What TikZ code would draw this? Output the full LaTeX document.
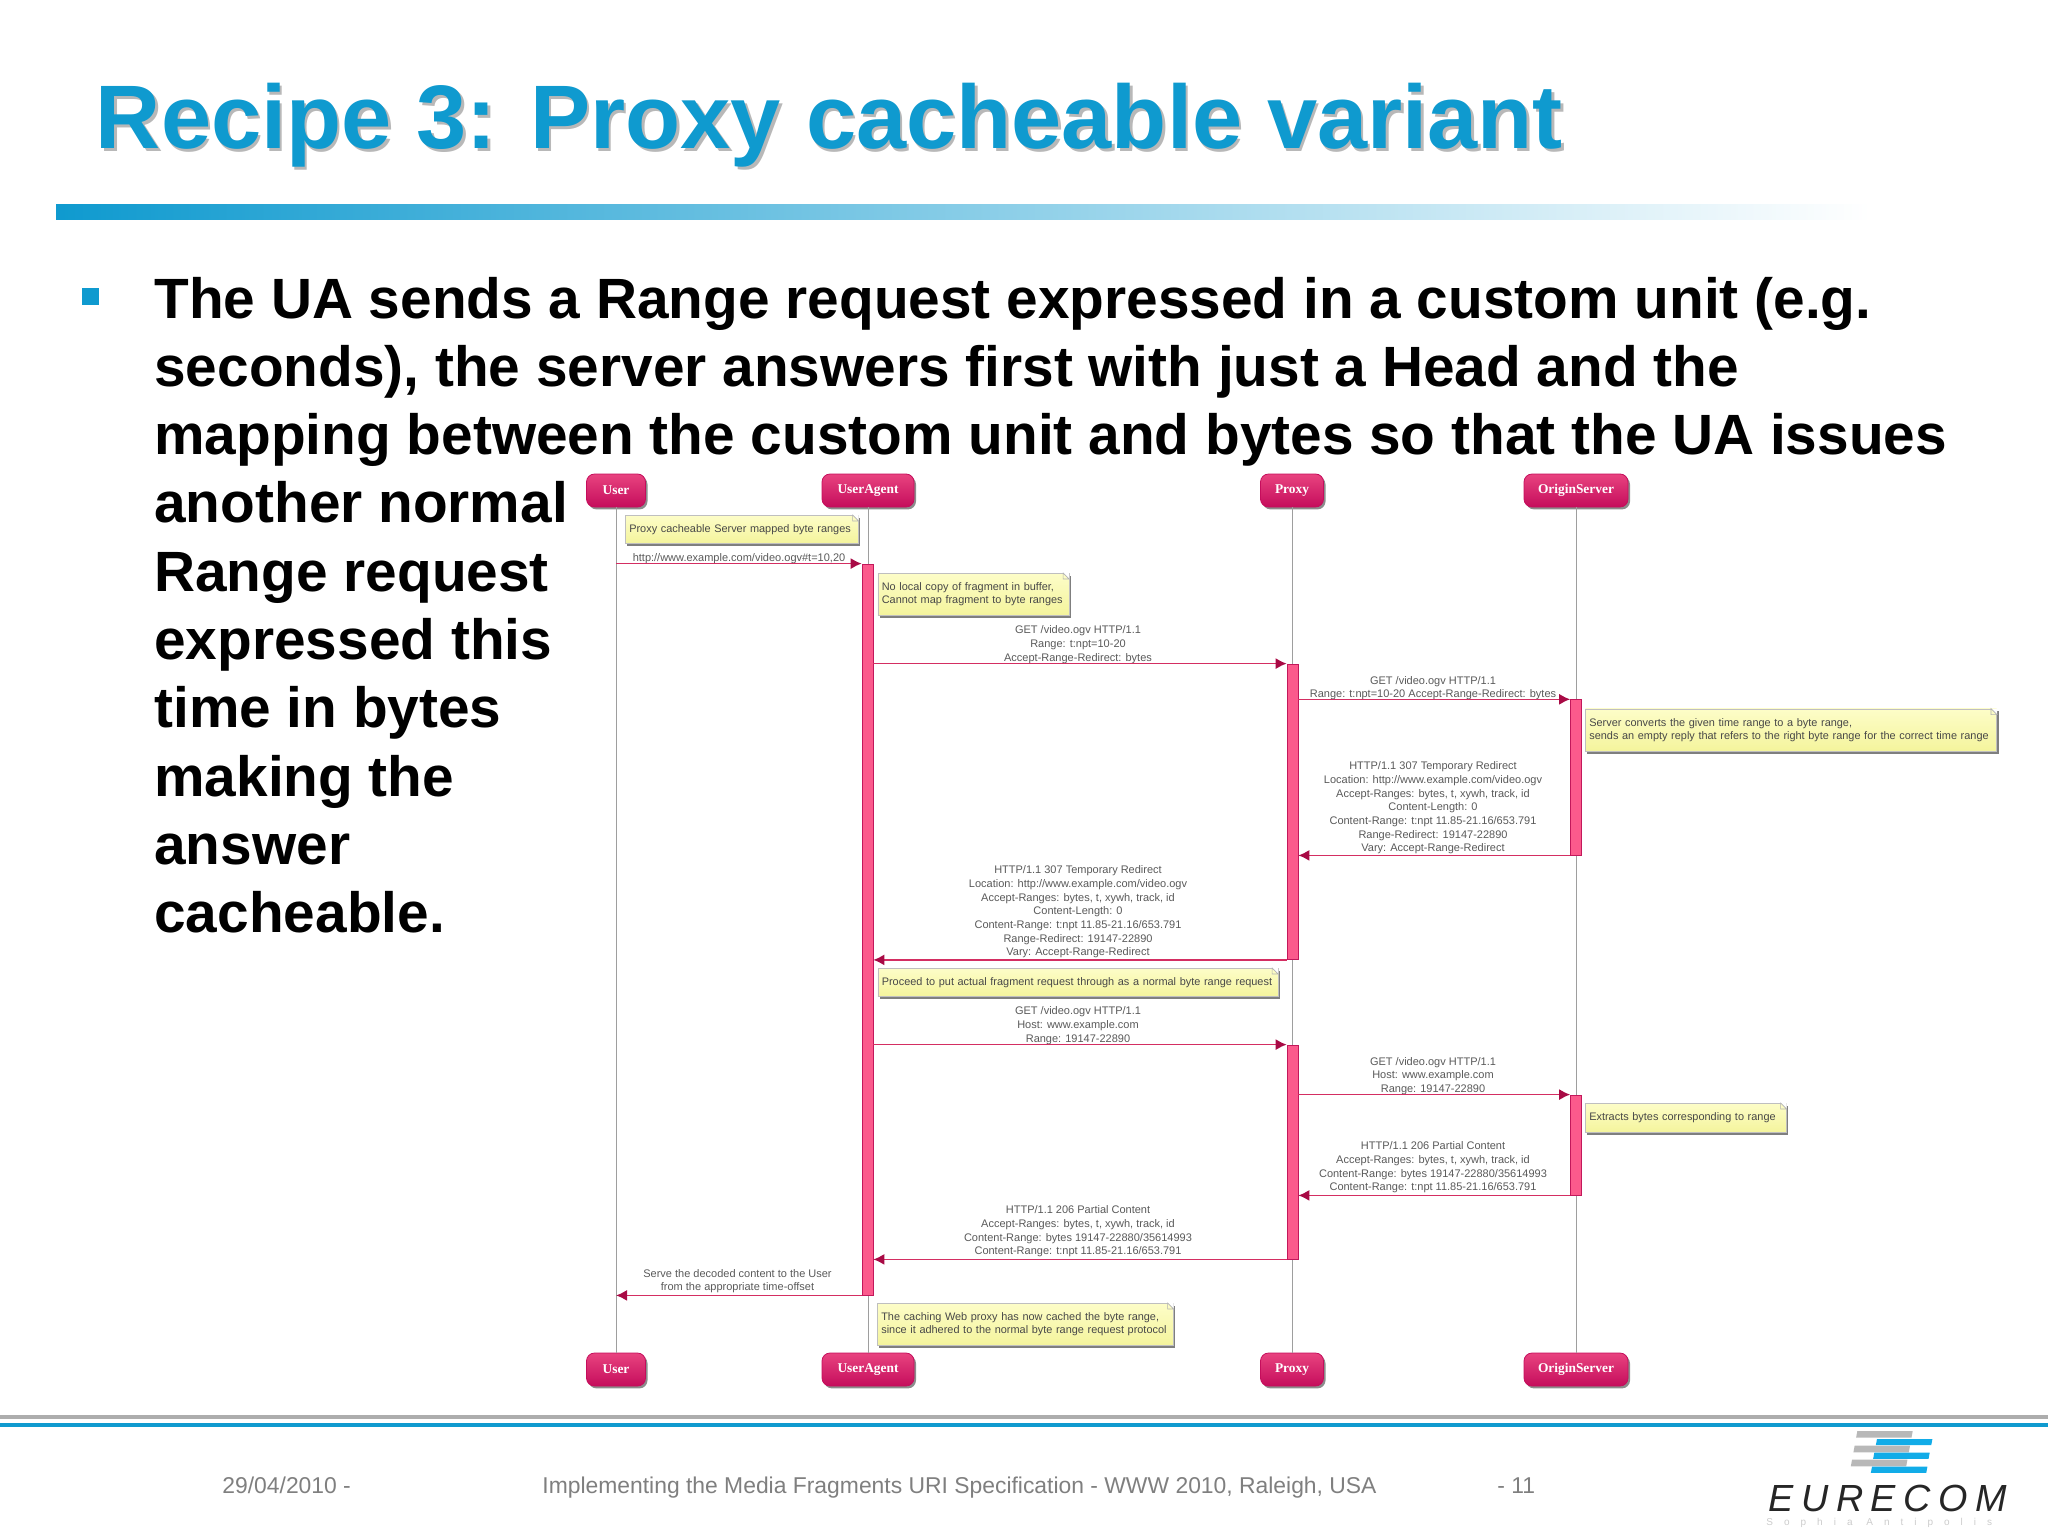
\documentclass[tikz,border=0pt]{standalone}
\usepackage{fontspec}
\setmainfont{Liberation Sans}
\newfontfamily\actorfont{Liberation Serif}
\newfontfamily\logofont[LetterSpace=20]{Liberation Sans}
\newfontfamily\logosubfont[LetterSpace=110]{Liberation Sans}
\usepackage{xcolor}
\usepackage{tikz}
\usetikzlibrary{arrows.meta,positioning,shadows}
\definecolor{slideblue}{HTML}{0F9ACF}
\definecolor{rulemid}{HTML}{A9C9E3}
\definecolor{footgray}{HTML}{7F7F7F}
\definecolor{actortop}{HTML}{E8437F}
\definecolor{actorbot}{HTML}{C50D5C}
\definecolor{barfill}{HTML}{FB5A8C}
\definecolor{barline}{HTML}{C2185B}
\definecolor{msgline}{HTML}{D42E62}
\definecolor{msghead}{HTML}{A80A45}
\definecolor{notetop}{HTML}{FDFDC8}
\definecolor{notebot}{HTML}{F4F49C}
\definecolor{logogray}{HTML}{B8B8B8}
\definecolor{logoblue}{HTML}{12ACE8}

\begin{document}
\begin{tikzpicture}[x=0.5pt,y=-0.5pt,
    actor/.style={rectangle, rounded corners=4pt, draw=actorbot, top color=actortop, bottom color=actorbot,
        minimum height=16.5pt, inner sep=0pt, text=white, font=\actorfont\bfseries\fontsize{6.7}{8}\selectfont,
        drop shadow={shadow xshift=1pt, shadow yshift=-1.2pt, opacity=0.45, fill=black}},
    bar/.style={rectangle, draw=barline, fill=barfill, line width=0.4pt, minimum width=5.4pt, inner sep=0pt},
    notebox/.style 2 args={rectangle, draw=black!25, top color=notetop, bottom color=notebot, line width=0.3pt,
        anchor=north west, inner xsep=2pt, inner ysep=0pt, text width=#1pt, minimum height=#2pt, align=left,
        text=black!72, font=\fontsize{5.46}{6.85}\selectfont,
        drop shadow={shadow xshift=1pt, shadow yshift=-1.2pt, opacity=0.5, fill=black}},
    lbl/.style={align=center, inner sep=0pt, text=black!65, font=\fontsize{5.5}{6.85}\selectfont},
    life/.style={draw, black!38, line width=0.5pt},
    msg/.style={draw, msgline, line width=0.8pt, -{Latex[length=5.5pt,width=5.5pt,color=msghead]}},
    slidetext/.style={inner sep=0pt, font=\bfseries\fontsize{28.4}{34.15}\selectfont, align=left},
    foot/.style={inner sep=0pt, text=footgray, font=\fontsize{11.44}{14}\selectfont}
]
    \useasboundingbox (0,0) rectangle (2048,1536);

    % slide head
    \node[inner sep=0pt, text=black!28, font=\bfseries\fontsize{45.1}{56}\selectfont, anchor=base west] (titleshade) at (98,151) {Recipe 3: Proxy cacheable variant};
    \node[inner sep=0pt, text=slideblue, font=\bfseries\fontsize{45.1}{56}\selectfont, anchor=base west] (title) at (95.5,148.5) {Recipe 3: Proxy cacheable variant};
    \fill[left color=slideblue, middle color=rulemid, right color=white] (56,204) rectangle (1870,219);
    \fill[slideblue] (82,288) rectangle (99,305);
    \node[slidetext, anchor=north west] (body) at (154,276.5) {The UA sends a Range request expressed in a custom unit (e.g.\\
        seconds), the server answers first with just a Head and the\\
        mapping between the custom unit and bytes so that the UA issues\\
        another normal\\
        Range request\\
        expressed this\\
        time in bytes\\
        making the\\
        answer\\
        cacheable.};

    % actors
    \node[actor, minimum width=29.5pt] (user) at (616,490.5) {User};
    \node[actor, minimum width=46pt] (agent) at (868,490.5) {UserAgent};
    \node[actor, minimum width=31.5pt] (proxy) at (1292,490.5) {Proxy};
    \node[actor, minimum width=52pt] (origin) at (1576,490.5) {OriginServer};
    \node[actor, minimum width=29.5pt] (userb) at (616,1369.5) {User};
    \node[actor, minimum width=46pt] (agentb) at (868,1369.5) {UserAgent};
    \node[actor, minimum width=31.5pt] (proxyb) at (1292,1369.5) {Proxy};
    \node[actor, minimum width=52pt] (originb) at (1576,1369.5) {OriginServer};

    \path[life] (user) -- (userb);
    \path[life] (agent) -- (agentb);
    \path[life] (proxy) -- (proxyb);
    \path[life] (origin) -- (originb);

    % activations
    \node[bar, minimum height=365.5pt] (agentact) at (867.5,929.5) {};
    \node[bar, minimum height=147.75pt] (proxyact) at (1292.5,811.75) {};
    \node[bar, minimum height=77.65pt] (originact) at (1576,777.35) {};
    \node[bar, minimum height=107pt] (proxyactb) at (1292.5,1152) {};
    \node[bar, minimum height=50pt] (originactb) at (1576,1145) {};

    % notes
    \node[notebox={112.5}{14}] (noteA) at (625,515) {Proxy cacheable Server mapped byte ranges};
    \node[notebox={91.5}{21}] (noteB) at (877.5,573) {No local copy of fragment in buffer,\\Cannot map fragment to byte ranges};
    \node[notebox={201.7}{21.2}] (noteC) at (1585,708.6) {Server converts the given time range to a byte range,\\sends an empty reply that refers to the right byte range for the correct time range};
    \node[notebox={196}{14}] (noteD) at (877.5,968) {Proceed to put actual fragment request through as a normal byte range request};
    \node[notebox={96.5}{14.5}] (noteE) at (1585,1103) {Extracts bytes corresponding to range};
    \node[notebox={144}{21}] (noteF) at (877,1303) {The caching Web proxy has now cached the byte range,\\since it adhered to the normal byte range request protocol};
    \foreach \notename in {noteA,noteB,noteC,noteD,noteE,noteF} {
        \fill[white] (\notename.north east) -- ++(-6,0) -- ++(6,6) -- cycle;
        \draw[black!30, line width=0.3pt] (\notename.north east) ++(-6,0) -- ++(0,6) -- ++(6,0) -- cycle;
    }

    % message labels
    \node[lbl] (labelA) at (739,559) {http://www.example.com/video.ogv\#t=10,20};
    \node[lbl] (labelB) at (1078,644.8) {GET /video.ogv HTTP/1.1\\Range: t:npt=10-20\\Accept-Range-Redirect: bytes};
    \node[lbl] (labelC) at (1433,688) {GET /video.ogv HTTP/1.1\\Range: t:npt=10-20 Accept-Range-Redirect: bytes};
    \node[lbl] (labelD) at (1433,808) {HTTP/1.1 307 Temporary Redirect\\Location: http://www.example.com/video.ogv\\Accept-Ranges: bytes, t, xywh, track, id\\Content-Length: 0\\Content-Range: t:npt 11.85-21.16/653.791\\Range-Redirect: 19147-22890\\Vary: Accept-Range-Redirect};
    \node[lbl] (labelE) at (1078,912) {HTTP/1.1 307 Temporary Redirect\\Location: http://www.example.com/video.ogv\\Accept-Ranges: bytes, t, xywh, track, id\\Content-Length: 0\\Content-Range: t:npt 11.85-21.16/653.791\\Range-Redirect: 19147-22890\\Vary: Accept-Range-Redirect};
    \node[lbl] (labelF) at (1078,1025.5) {GET /video.ogv HTTP/1.1\\Host: www.example.com\\Range: 19147-22890};
    \node[lbl] (labelG) at (1433,1076) {GET /video.ogv HTTP/1.1\\Host: www.example.com\\Range: 19147-22890};
    \node[lbl] (labelH) at (1433,1167.5) {HTTP/1.1 206 Partial Content\\Accept-Ranges: bytes, t, xywh, track, id\\Content-Range: bytes 19147-22880/35614993\\Content-Range: t:npt 11.85-21.16/653.791};
    \node[lbl] (labelI) at (1078,1231.5) {HTTP/1.1 206 Partial Content\\Accept-Ranges: bytes, t, xywh, track, id\\Content-Range: bytes 19147-22880/35614993\\Content-Range: t:npt 11.85-21.16/653.791};
    \node[lbl] (labelJ) at (737.5,1281) {Serve the decoded content to the User\\from the appropriate time-offset};

    % messages
    \path[msg] (user.south |- agentact.north) -- (agentact.north west);
    \path[msg] (agentact.east |- proxyact.north) -- (proxyact.north west);
    \path[msg] (proxyact.east |- originact.north) -- (originact.north west);
    \path[msg] (originact.south west) -- (proxyact.east |- originact.south);
    \path[msg] (proxyact.south west) -- (agentact.east |- proxyact.south);
    \path[msg] (agentact.east |- proxyactb.north) -- (proxyactb.north west);
    \path[msg] (proxyactb.east |- originactb.north) -- (originactb.north west);
    \path[msg] (originactb.south west) -- (proxyactb.east |- originactb.south);
    \path[msg] (proxyactb.south west) -- (agentact.east |- proxyactb.south);
    \path[msg] (agentact.south west) -- (user.south |- agentact.south);

    % slide foot
    \fill[black!32] (0,1415) rectangle (2048,1419);
    \fill[slideblue] (0,1423) rectangle (2048,1427);
    \node[foot, anchor=base west] (footdate) at (222,1493) {29/04/2010 -};
    \node[foot, anchor=base west] (foottitle) at (542,1493) {Implementing the Media Fragments URI Specification - WWW 2010, Raleigh, USA};
    \node[foot, anchor=base west] (footpage) at (1497,1493) {- 11};

    % logo
    \foreach \dx/\yy in {0/1431,-2.7/1445.7,-5.3/1459.7}
        \fill[logogray] (1857.3+\dx,\yy) -- ++(55.4,0) -- ++(-1.2,6.6) -- ++(-55.4,0) -- cycle;
    \foreach \dx/\yy in {0/1439,-2.7/1452.7,-5/1466.7}
        \fill[logoblue] (1877+\dx,\yy) -- ++(55.4,0) -- ++(-1.2,6.2) -- ++(-55.4,0) -- cycle;
    \node[inner sep=0pt, anchor=base west, text=black!85, font=\logofont\itshape\fontsize{18.9}{22}\selectfont] (logoname) at (1768,1511) {EURECOM};
    \node[inner sep=0pt, anchor=base west, text=black!20, font=\logosubfont\fontsize{5}{6}\selectfont] (logoplace) at (1766,1525) {Sophia Antipolis};
\end{tikzpicture}
\end{document}
